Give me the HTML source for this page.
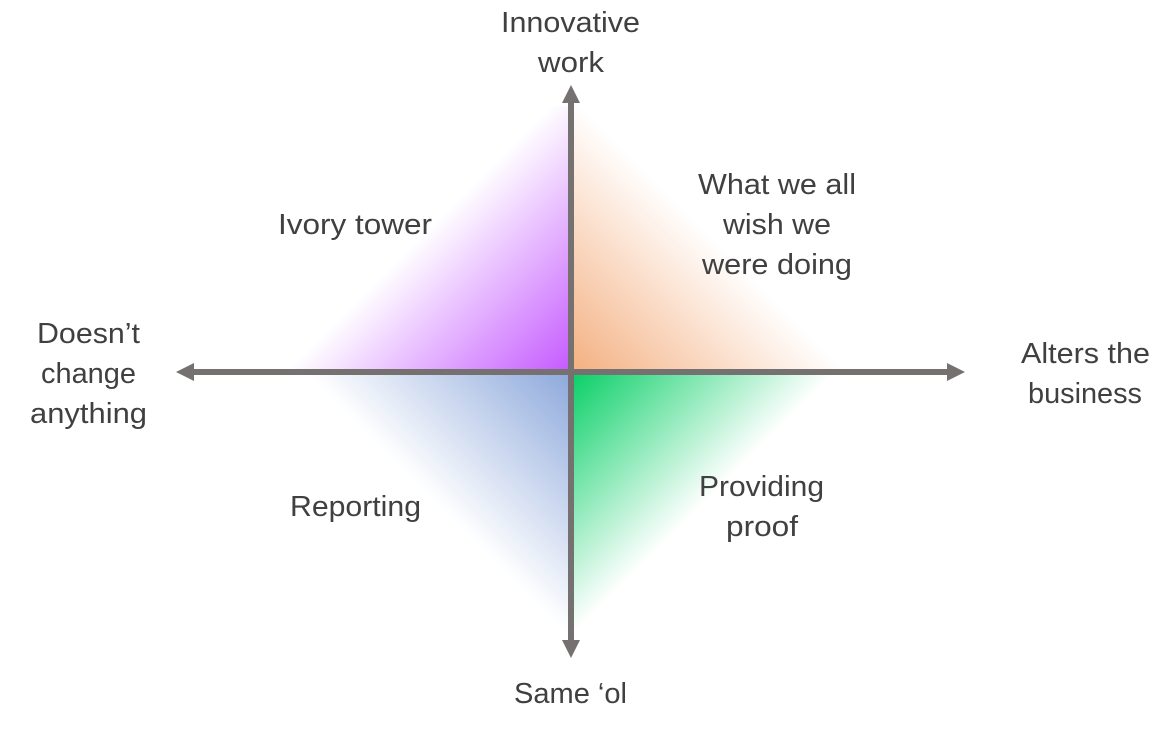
<!DOCTYPE html>
<html>
<head>
<meta charset="utf-8">
<style>
html,body{margin:0;padding:0;background:#fff;}
svg{display:block;}
text{font-family:"Liberation Sans",sans-serif;font-size:28.5px;fill:#404040;}
</style>
</head>
<body>
<svg width="1176" height="729" viewBox="0 0 1176 729" xmlns="http://www.w3.org/2000/svg">
<defs>
<linearGradient id="p" gradientUnits="userSpaceOnUse" x1="568" y1="369" x2="428" y2="229"><stop offset="0" stop-color="#c65cff"/><stop offset="1" stop-color="#fff"/></linearGradient>
<linearGradient id="o" gradientUnits="userSpaceOnUse" x1="574" y1="369" x2="709" y2="234"><stop offset="0" stop-color="#f4b183"/><stop offset="1" stop-color="#fff"/></linearGradient>
<linearGradient id="b" gradientUnits="userSpaceOnUse" x1="568" y1="375" x2="438" y2="505"><stop offset="0" stop-color="#8faadc"/><stop offset="1" stop-color="#fff"/></linearGradient>
<linearGradient id="g" gradientUnits="userSpaceOnUse" x1="574" y1="375" x2="703" y2="504"><stop offset="0" stop-color="#0cd068"/><stop offset="1" stop-color="#fff"/></linearGradient>
</defs>
<polygon points="552,106 568,106 568,369 289,369" fill="url(#p)"/>
<polygon points="574,100 574,369 844,369 " fill="url(#o)"/>
<polygon points="568,375 568,634 308,375" fill="url(#b)"/>
<polygon points="574,375 574,632 832,375" fill="url(#g)"/>
<rect x="568" y="100" width="6" height="545" fill="#767171"/>
<rect x="190" y="369" width="760" height="6" fill="#767171"/>
<polygon points="571,85 580,103 562,103" fill="#767171"/>
<polygon points="571,658 580,640 562,640" fill="#767171"/>
<polygon points="176,372 194,363 194,381" fill="#767171"/>
<polygon points="965,372 947,363 947,381" fill="#767171"/>
<text x="501" y="32" textLength="139" lengthAdjust="spacingAndGlyphs">Innovative</text>
<text x="538" y="72" textLength="66" lengthAdjust="spacingAndGlyphs">work</text>
<text x="698" y="194" textLength="158" lengthAdjust="spacingAndGlyphs">What we all</text>
<text x="723" y="234" textLength="108" lengthAdjust="spacingAndGlyphs">wish we</text>
<text x="702" y="274" textLength="150" lengthAdjust="spacingAndGlyphs">were doing</text>
<text x="278" y="234" textLength="154" lengthAdjust="spacingAndGlyphs">Ivory tower</text>
<text x="37" y="343" textLength="103" lengthAdjust="spacingAndGlyphs">Doesn’t</text>
<text x="41" y="383" textLength="95" lengthAdjust="spacingAndGlyphs">change</text>
<text x="30" y="423" textLength="117" lengthAdjust="spacingAndGlyphs">anything</text>
<text x="1021" y="363" textLength="129" lengthAdjust="spacingAndGlyphs">Alters the</text>
<text x="1028" y="403" textLength="114" lengthAdjust="spacingAndGlyphs">business</text>
<text x="290" y="516" textLength="131" lengthAdjust="spacingAndGlyphs">Reporting</text>
<text x="699" y="496" textLength="125" lengthAdjust="spacingAndGlyphs">Providing</text>
<text x="726" y="536" textLength="72" lengthAdjust="spacingAndGlyphs">proof</text>
<text x="514" y="703" textLength="113" lengthAdjust="spacingAndGlyphs">Same ‘ol</text>
</svg>
</body>
</html>
